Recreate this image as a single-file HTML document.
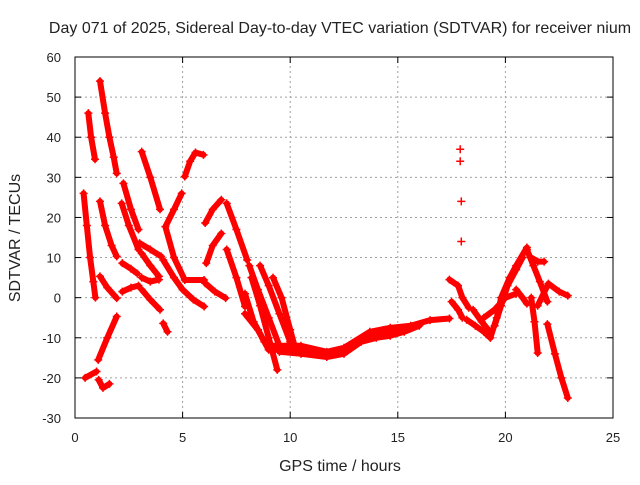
<!DOCTYPE html>
<html><head><meta charset="utf-8"><style>
body{margin:0;background:#fff;width:640px;height:480px;overflow:hidden}
svg text{font-family:"Liberation Sans",sans-serif;font-size:13px;fill:#222}
svg text.ttl{font-size:16px}
</style></head><body>
<svg id="chart" width="640" height="480" xmlns="http://www.w3.org/2000/svg">
<text class="ttl" x="340" y="33" text-anchor="middle">Day 071 of 2025, Sidereal Day-to-day VTEC variation (SDTVAR) for receiver nium</text>
<text class="ttl" x="340" y="471" text-anchor="middle">GPS time / hours</text>
<text class="ttl" transform="translate(20,238) rotate(-90)" text-anchor="middle">SDTVAR / TECUs</text>
<g id="grid"></g><g id="ticks"></g><g id="marks"></g>
<rect x="75" y="57" width="538" height="361" fill="none" stroke="#000" stroke-width="1"/>
</svg>
<script>
const xTicks=[0,5,10,15,20,25];
const yTicks=[-30,-20,-10,0,10,20,30,40,50,60];
// tracks: each is a list of [hour, sdtvar]
const trackA=[[0.4,26],[0.55,18],[0.7,10],[0.85,4],[0.95,0]];
const trackB=[[0.62,46],[0.75,40],[0.93,34.5]];
const trackC=[[1.16,54],[1.4,46],[1.6,40],[1.8,35],[1.94,31]];
const trackD=[[1.16,24],[1.4,18],[1.7,13],[1.94,10.3]];
const trackE=[[2.25,28.5],[2.6,22],[2.95,17]];
const trackF=[[2.17,23.5],[2.5,18],[2.95,12]];
const trackG=[[3.1,36.4],[3.5,30],[3.95,22]];
const trackH=[[1.16,5.3],[1.5,2.5],[1.94,-0.1]];
const trackI=[[2.2,1.5],[2.6,2.5],[2.95,3]];
const trackJ=[[2.2,8.6],[2.6,7.2],[2.9,6]];
const trackK=[[3.0,13.6],[3.5,12],[4.0,10.3]];
const trackL=[[3.1,11],[3.5,8],[3.9,5.3]];
const trackM=[[3.1,5],[3.5,4],[3.9,4.5]];
const trackN=[[3.1,2],[3.5,-0.5],[3.95,-3]];
const trackO=[[4.1,-6.4],[4.3,-8.5]];
const trackP=[[1.08,-15.5],[1.5,-10],[1.94,-4.7]];
const trackQ=[[0.47,-20],[1.0,-18.4]];
const trackR=[[1.1,-20.5],[1.3,-22.5],[1.6,-21.5]];
const trackS=[[4.96,26],[4.6,22],[4.2,17.7],[4.6,10],[5.1,4.4],[6.0,4.4]];
const trackT=[[5.1,30.2],[5.35,34],[5.6,36.2],[5.97,35.6]];
const trackU=[[4.1,9.4],[4.6,5],[5.0,2],[5.5,-0.5],[6.0,-2.2]];
const trackW=[[6.05,18.6],[6.4,22],[6.8,24.4]];
const trackX=[[6.1,8.6],[6.4,13],[6.8,16]];
const trackY=[[7.05,23.5],[7.5,17],[8.0,9.4]];
const trackZ=[[7.05,12],[7.5,5],[7.9,-2.2]];
const trackZ2=[[6.05,3.6],[6.5,1.5],[7.0,-0.1]];
const trackV1=[[8.1,8],[8.5,2],[9.0,-5],[9.5,-12]];
const trackV2=[[8.2,5],[8.6,-2],[9.0,-10],[9.4,-18]];
const trackV3=[[8.6,8],[9.0,3],[9.5,-4],[10.0,-11]];
const trackV4=[[9.2,5],[9.6,0],[10.0,-8],[10.2,-12]];
const trackV5=[[7.9,1],[8.3,-6],[8.8,-11],[9.3,-13]];
const trackV6=[[7.9,-4],[8.5,-8],[9.0,-13],[9.6,-13]];
const band1=[[9.1,-12],[10.5,-12],[11.7,-13.5],[12.5,-12.5],[13.7,-8.5],[14.65,-7.5],[15.6,-7],[16.5,-5.6],[17.4,-5.2]];
const band2=[[9.5,-13.5],[10.5,-14],[11.7,-14.8],[12.5,-14],[13.3,-11],[14.0,-10],[14.65,-9.5],[15.3,-8.5],[16.0,-7]];
const band3=[[9.3,-12.8],[10.5,-13],[11.7,-14.2],[12.5,-13.3],[13.5,-10],[14.5,-8.7],[15.5,-7.8]];
const spike1=[[17.9,37]];
const spike2=[[17.9,34]];
const spike3=[[17.95,24]];
const spike4=[[17.95,14]];
const trackAa=[[17.4,4.5],[17.8,3],[18.0,0],[18.3,-2.5]];
const trackAb=[[17.5,-1],[17.8,-3],[18.0,-5]];
const trackAd=[[18.2,-5.5],[18.6,-7],[19.0,-8.5],[19.3,-10]];
const trackAe=[[18.5,-3],[18.9,-6],[19.2,-8]];
const trackAf=[[19.3,-10],[19.6,-5],[19.8,0],[20.2,5],[20.5,8],[21.0,12.5]];
const trackAg=[[19.5,-7],[19.8,-2],[20.1,3],[20.5,7],[20.8,10]];
const trackAh=[[19.0,-5],[19.5,-3],[20.0,0],[20.5,1]];
const trackAi=[[21.0,12],[21.3,8],[21.6,4],[21.95,-1]];
const trackAj=[[21.2,10],[21.5,9],[21.8,9]];
const trackAk=[[21.2,0],[21.35,-6],[21.5,-13.8]];
const trackAl=[[20.5,2],[20.8,0],[21.0,-1.5]];
const trackAm=[[21.5,-2],[22.0,3.5],[22.5,1.5],[22.9,0.5]];
const trackAn=[[21.95,-6.6],[22.3,-14],[22.6,-20],[22.9,-25]];
const tracks=[trackA,trackB,trackC,trackD,trackE,trackF,trackG,trackH,trackI,trackJ,trackK,trackL,trackM,trackN,trackO,trackP,trackQ,trackR,trackS,trackT,trackU,trackW,trackX,trackY,trackZ,trackZ2,trackV1,trackV2,trackV3,trackV4,trackV5,trackV6,band1,band2,band3,spike1,spike2,spike3,spike4,trackAa,trackAb,trackAd,trackAe,trackAf,trackAg,trackAh,trackAi,trackAj,trackAk,trackAl,trackAm,trackAn];

const X0=75,X1=613,Y0=418,Y1=57;
function xs(v){return X0+(v-0)/(25-0)*(X1-X0);}
function ys(v){return Y0-(v+30)/(90)*(Y0-Y1);}
const NS="http://www.w3.org/2000/svg";
function mk(tag,attrs,parent){const e=document.createElementNS(NS,tag);for(const k in attrs)e.setAttribute(k,attrs[k]);parent.appendChild(e);return e;}
const grid=document.getElementById('grid'),ticks=document.getElementById('ticks'),marks=document.getElementById('marks');
xTicks.forEach(t=>{const x=xs(t);
 if(t>0&&t<25){const g=mk('line',{x1:x,x2:x,y1:Y0,y2:Y1,stroke:'#a0a0a0','stroke-dasharray':'2,3'},grid);
 
 }
 mk('line',{x1:x,x2:x,y1:Y0,y2:Y0-6,stroke:'#000'},ticks);
 mk('line',{x1:x,x2:x,y1:Y1,y2:Y1+6,stroke:'#000'},ticks);
 const tx=mk('text',{x:x,y:Y0+24,'text-anchor':'middle'},ticks);tx.textContent=t;
 
 
});
yTicks.forEach(t=>{const y=ys(t);
 if(t>-30&&t<60){const g=mk('line',{x1:X0,x2:X1,y1:y,y2:y,stroke:'#a0a0a0','stroke-dasharray':'2,3'},grid);
 
 }
 mk('line',{x1:X0,x2:X0+6,y1:y,y2:y,stroke:'#000'},ticks);
 mk('line',{x1:X1,x2:X1-6,y1:y,y2:y,stroke:'#000'},ticks);
 const tx=mk('text',{x:X0-14,y:y+5,'text-anchor':'end'},ticks);tx.textContent=t;
 
 
});
tracks.forEach((tr,i)=>{
 if(tr.length>1){
 const pts=tr.map(p=>xs(p[0]).toFixed(1)+','+ys(p[1]).toFixed(1)).join(' ');
 const pl=mk('polyline',{points:pts,fill:'none',stroke:'#ff0000','stroke-width':6,'stroke-linecap':'round','stroke-linejoin':'round'},marks);
 
 
 }
 tr.forEach(p=>{const x=xs(p[0]),y=ys(p[1]);
  const m=mk('path',{d:`M${x-4},${y}H${x+4}M${x},${y-4}V${y+4}`,stroke:'#ff0000','stroke-width':1.5},marks);
  
  
 });
});
</script>
</body></html>
